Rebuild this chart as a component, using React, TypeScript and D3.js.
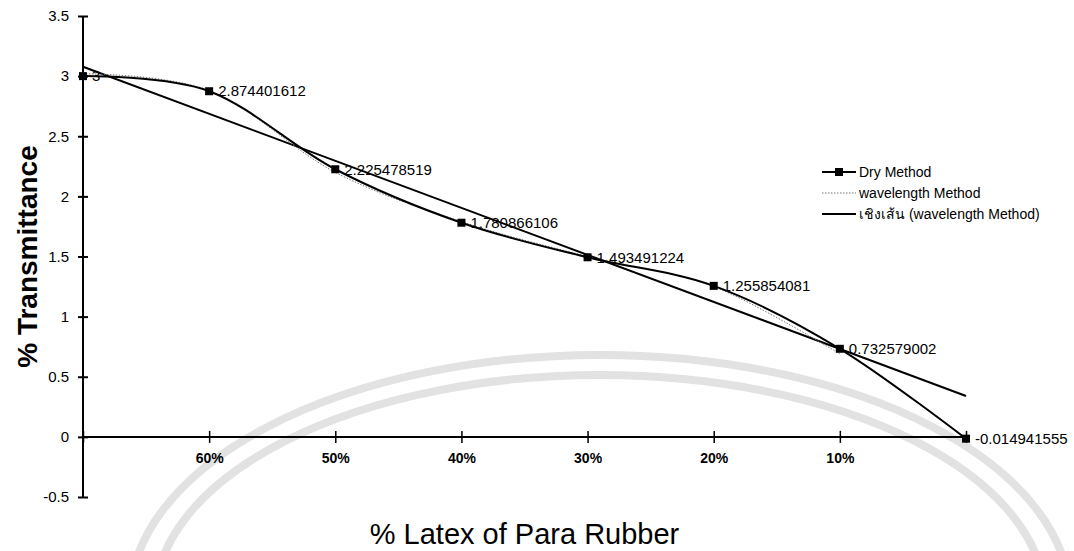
import React, { useRef, useEffect } from "react";
import * as d3 from "d3";

// ค่าจากกราฟ
const categories = ["", "60%", "50%", "40%", "30%", "20%", "10%", ""];
const dryMethod = [3, 2.874401612, 2.225478519, 1.780866106, 1.493491224, 1.255854081, 0.732579002, -0.014941555];
const wavelengthMethod = [3.02, 2.88, 2.2, 1.79, 1.5, 1.25, 0.69];
const yTicks = [-0.5, 0, 0.5, 1, 1.5, 2, 2.5, 3, 3.5];
const legendLabels = ["Dry Method", "wavelength Method", "เชิงเส้น (wavelength Method)"];

const FONT = "'Liberation Sans', Arial, sans-serif";

const App = () => {
  const svgRef = useRef<SVGSVGElement | null>(null);

  useEffect(() => {
    if (!svgRef.current) return;
    const svg = d3.select(svgRef.current);
    svg.selectAll("*").remove();

    const x = d3
      .scalePoint<number>()
      .domain(d3.range(categories.length))
      .range([83, 966]);
    const y = d3.scaleLinear().domain([-0.5, 3.5]).range([497, 16]);

    // watermark (จาง ๆ)
    const wm = svg.append("g").attr("fill", "none").attr("stroke", "#e2e2e2");
    wm.append("ellipse")
      .attr("cx", 600).attr("cy", 600).attr("rx", 470).attr("ry", 245)
      .attr("stroke-width", 8);
    wm.append("ellipse")
      .attr("cx", 600).attr("cy", 600).attr("rx", 445).attr("ry", 225)
      .attr("stroke-width", 8);

    // y axis
    const yAxis = svg
      .append("g")
      .attr("transform", `translate(${x(0)},0)`)
      .call(
        d3.axisLeft(y)
          .tickValues(yTicks)
          .tickSizeOuter(0)
          .tickSizeInner(5)
          .tickPadding(9)
          .tickFormat((d) => String(d))
      );
    yAxis.select(".domain").attr("stroke-width", 2).attr("d", `M0,${y(3.5)}V${y(-0.5)}`);
    yAxis.selectAll(".tick line").attr("x1", 5).attr("x2", -5).attr("stroke-width", 2);
    yAxis.selectAll("text").style("font-family", FONT).style("font-size", "15px").attr("fill", "#000");

    // x axis (ที่ y = 0)
    const xAxis = svg
      .append("g")
      .attr("transform", `translate(0,${y(0)})`)
      .call(
        d3.axisBottom(x)
          .tickSizeOuter(0)
          .tickSizeInner(6)
          .tickPadding(10)
          .tickFormat((i) => categories[i as number])
      );
    xAxis.select(".domain").attr("stroke-width", 2).attr("d", `M${x(0)},0H${x(categories.length - 1)}`);
    xAxis.selectAll(".tick line").attr("y1", -6).attr("y2", 6).attr("stroke-width", 1.5);
    xAxis.selectAll("text")
      .style("font-family", FONT)
      .style("font-size", "14px")
      .style("font-weight", "bold")
      .attr("fill", "#000");

    // เส้นแนวโน้ม (linear regression ของ wavelength Method)
    const xs = wavelengthMethod.map((_, i) => i);
    const mx = d3.mean(xs) as number;
    const my = d3.mean(wavelengthMethod) as number;
    const slope =
      (d3.sum(xs, (xi, i) => (xi - mx) * (wavelengthMethod[i] - my)) as number) /
      (d3.sum(xs, (xi) => (xi - mx) * (xi - mx)) as number);
    const trend = (i: number) => my + slope * (i - mx);
    const lastIdx = categories.length - 1;
    svg.append("line")
      .attr("x1", x(0) as number)
      .attr("y1", y(trend(0)))
      .attr("x2", x(lastIdx) as number)
      .attr("y2", y(trend(lastIdx)))
      .attr("stroke", "#000")
      .attr("stroke-width", 2);

    const line = d3
      .line<number>()
      .x((_, i) => x(i) as number)
      .y((d) => y(d))
      .curve(d3.curveCatmullRom.alpha(0));

    // wavelength Method (เส้นประบาง)
    svg.append("path")
      .datum(wavelengthMethod)
      .attr("fill", "none")
      .attr("stroke", "#777")
      .attr("stroke-width", 1)
      .attr("stroke-dasharray", "1.5,1.5")
      .attr("d", line);

    // Dry Method
    svg.append("path")
      .datum(dryMethod)
      .attr("fill", "none")
      .attr("stroke", "#000")
      .attr("stroke-width", 2)
      .attr("d", line);

    svg.selectAll("rect.marker")
      .data(dryMethod)
      .enter()
      .append("rect")
      .attr("class", "marker")
      .attr("x", (_, i) => (x(i) as number) - 4)
      .attr("y", (d) => y(d) - 4)
      .attr("width", 8)
      .attr("height", 8)
      .attr("fill", "#000");

    svg.selectAll("text.data-label")
      .data(dryMethod)
      .enter()
      .append("text")
      .attr("class", "data-label")
      .attr("x", (_, i) => (x(i) as number) + 9)
      .attr("y", (d) => y(d))
      .attr("dy", "0.35em")
      .style("font-family", FONT)
      .style("font-size", "15px")
      .attr("fill", "#000")
      .text((d) => String(d));

    // legend
    const legend = svg.append("g").attr("transform", "translate(822,172)");
    legendLabels.forEach((label, i) => {
      const row = legend.append("g").attr("transform", `translate(0,${i * 21})`);
      if (i === 0) {
        row.append("line").attr("x1", 0).attr("x2", 34).attr("stroke", "#000").attr("stroke-width", 2);
        row.append("rect").attr("x", 13).attr("y", -4).attr("width", 8).attr("height", 8).attr("fill", "#000");
      } else if (i === 1) {
        row.append("line").attr("x1", 0).attr("x2", 34).attr("stroke", "#777")
          .attr("stroke-width", 1).attr("stroke-dasharray", "1.5,1.5");
      } else {
        row.append("line").attr("x1", 0).attr("x2", 34).attr("stroke", "#000").attr("stroke-width", 2);
      }
      row.append("text")
        .attr("x", 37)
        .attr("dy", "0.35em")
        .style("font-family", FONT)
        .style("font-size", "14px")
        .attr("fill", "#000")
        .text(label);
    });

    // axis titles
    svg.append("text")
      .attr("transform", `translate(27,${(y(3.5) + y(-0.5)) / 2}) rotate(-90)`)
      .attr("text-anchor", "middle")
      .attr("dy", "0.35em")
      .style("font-family", FONT)
      .style("font-size", "28px")
      .style("font-weight", "bold")
      .attr("fill", "#000")
      .text("% Transmittance");

    svg.append("text")
      .attr("x", ((x(0) as number) + (x(lastIdx) as number)) / 2)
      .attr("y", 544)
      .attr("text-anchor", "middle")
      .style("font-family", FONT)
      .style("font-size", "29px")
      .attr("fill", "#000")
      .text("% Latex of Para Rubber");
  }, []);

  return (
    <svg
      ref={svgRef}
      width={1074}
      height={551}
      style={{ position: "absolute", left: 0, top: 0, background: "#fff" }}
    />
  );
};

export default App;
